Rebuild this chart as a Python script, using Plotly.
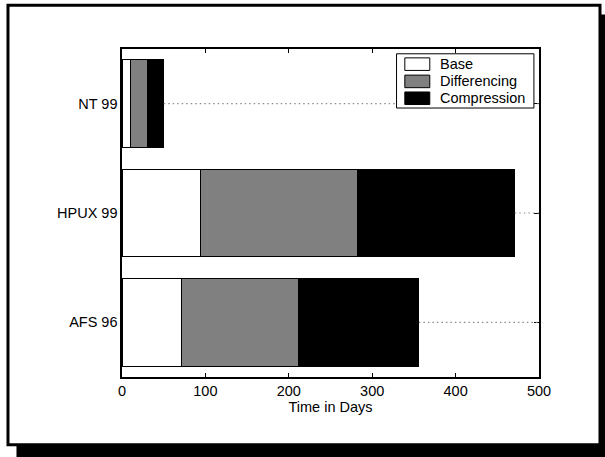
import plotly.graph_objects as go

# ---- data ----
categories = ["AFS 96", "HPUX 99", "NT 99"]
base = [71, 94, 10]
differencing = [141, 188, 20]
compression = [144, 189, 20]
series_names = ["Base", "Differencing", "Compression"]
series_colors = ["#ffffff", "#808080", "#000000"]
x_ticks = [0, 100, 200, 300, 400, 500]
x_title = "Time in Days"

# ---- layout geometry (pixels) ----
W, H = 605, 457
L, R, T, B = 121.7, 539.4, 48.5, 377.5
PW, PH = R - L, B - T


def px(x):
    return (x - L) / PW


def py(y):
    return (B - y) / PH


FONT = "Liberation Sans, Arial, Helvetica, sans-serif"
FS = 14.5

fig = go.Figure()
series_vals = [base, differencing, compression]
for name, vals, col in zip(series_names, series_vals, series_colors):
    fig.add_trace(go.Bar(
        y=categories, x=vals, name=name, orientation="h",
        marker=dict(color=col, line=dict(color="black", width=1)),
        showlegend=False, hoverinfo="skip"))

totals = [a + b + c for a, b, c in zip(*series_vals)]
for cat, tot in zip(categories, totals):
    fig.add_trace(go.Scatter(
        x=[tot, x_ticks[-1]], y=[cat, cat], mode="lines",
        line=dict(color="#8c8c8c", width=1.2, dash="1.5px,3px"),
        showlegend=False, hoverinfo="skip"))

shapes = [
    # drop shadow
    dict(type="rect", xref="paper", yref="paper", x0=px(16), x1=px(620),
         y0=py(14), y1=py(470), fillcolor="black", line=dict(width=0), layer="below"),
    # frame
    dict(type="rect", xref="paper", yref="paper", x0=px(7.5), x1=px(600.5),
         y0=py(4.5), y1=py(445.5), fillcolor="white",
         line=dict(color="black", width=3), layer="below"),
    # legend box
    dict(type="rect", xref="paper", yref="paper", x0=px(396.7), x1=px(534.3),
         y0=py(53.3), y1=py(107.7), fillcolor="white",
         line=dict(color="black", width=1), layer="above"),
]
annotations = []
row_centers = [63.7, 81.0, 97.9]
for name, col, yc in zip(series_names, series_colors, row_centers):
    shapes.append(dict(type="rect", xref="paper", yref="paper",
                       x0=px(405), x1=px(430), y0=py(yc - 6.3), y1=py(yc + 6.3),
                       fillcolor=col, line=dict(color="black", width=1), layer="above"))
    annotations.append(dict(xref="paper", yref="paper", x=px(438), y=py(yc),
                            text=name, showarrow=False, xanchor="left", yanchor="middle",
                            font=dict(family=FONT, size=FS, color="black")))

fig.update_layout(
    width=W, height=H,
    margin=dict(l=L, r=W - R, t=T, b=H - B, pad=0),
    paper_bgcolor="white", plot_bgcolor="rgba(0,0,0,0)",
    barmode="stack", bargap=0.2,
    font=dict(family=FONT, size=FS, color="black"),
    shapes=shapes, annotations=annotations,
    showlegend=False,
)
fig.update_xaxes(
    range=[x_ticks[0], x_ticks[-1]], tickvals=x_ticks, ticks="inside", ticklen=4,
    tickcolor="black", tickwidth=1, showline=True, linecolor="black", linewidth=1.6,
    mirror="ticks", showgrid=False, zeroline=False,
    title=dict(text=x_title, standoff=0, font=dict(family=FONT, size=FS)),
)
fig.update_yaxes(
    range=[-0.5, 2.5], ticks="inside", ticklen=5, tickcolor="black", tickwidth=1,
    showline=True, linecolor="black", linewidth=1.6, mirror="ticks",
    showgrid=False, zeroline=False, layer="below traces",
)

fig.write_html(
    "out.html",
    config={"displayModeBar": False, "staticPlot": True},
    post_script="document.body.style.margin='0';document.body.style.overflow='hidden';",
)
